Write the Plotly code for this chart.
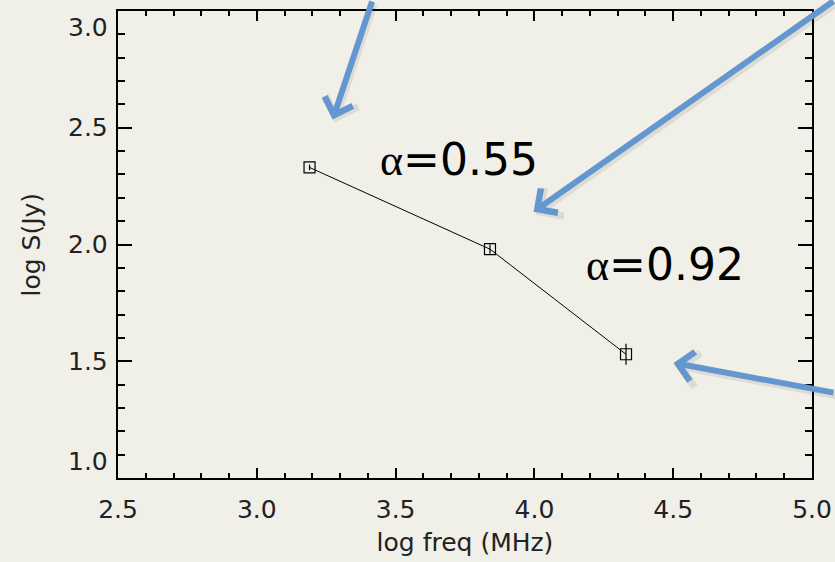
import plotly.graph_objects as go

# Radio spectrum: log frequency (MHz) vs log flux density (Jy)
log_freq = [3.19, 3.84, 4.33]
log_flux = [2.33, 1.98, 1.53]
flux_err = [0.012, 0.02, 0.045]

# Tick positions and labels
x_ticks = [2.5, 3.0, 3.5, 4.0, 4.5, 5.0]
y_ticks = [1.0, 1.5, 2.0, 2.5, 3.0]

# Spectral index labels: (text, x, y)
alpha_labels = [("α=0.55", 3.73, 2.365), ("α=0.92", 4.47, 1.915)]

# Pointer arrows: head position in data units, tail offset in pixels
arrow_heads_x = [3.273, 3.997, 4.501]
arrow_heads_y = [2.535, 2.140, 1.493]
arrow_tail_dx = [40, 320, 175]
arrow_tail_dy = [-132, -216, 30]

BG = "#f0efe8"
ARROW = "#6497cf"
FONT = "DejaVu Sans"
TEXT = "#222"

fig = go.Figure()
fig.add_trace(go.Scatter(
    x=log_freq, y=log_flux, mode="lines+markers",
    line=dict(color="black", width=1),
    marker=dict(symbol="square-open", size=11, color="black", line=dict(width=1.2)),
    error_y=dict(type="data", array=flux_err, color="black", thickness=1.2, width=0),
    showlegend=False,
))

annotations = []
for hx, hy, dx, dy in zip(arrow_heads_x, arrow_heads_y, arrow_tail_dx, arrow_tail_dy):
    # soft drop shadow under each arrow
    annotations.append(dict(
        x=hx, y=hy, xref="x", yref="y", ax=dx, ay=dy,
        text="", showarrow=True, arrowhead=4, arrowsize=0.95, arrowwidth=7,
        arrowcolor="rgba(60,60,50,0.10)", xshift=2, yshift=-3,
    ))
    annotations.append(dict(
        x=hx, y=hy, xref="x", yref="y", ax=dx, ay=dy,
        text="", showarrow=True, arrowhead=4, arrowsize=0.95, arrowwidth=6,
        arrowcolor=ARROW,
    ))
for txt, tx, ty in alpha_labels:
    sym, rest = txt[0], txt[1:]
    annotations.append(dict(
        x=tx, y=ty, xref="x", yref="y", showarrow=False,
        text=f'<span style="font-family:Liberation Serif">{sym}</span>{rest}',
        font=dict(family=FONT, size=44, color="black"),
    ))

# y tick labels: end labels are nudged inside the axis span
for i, v in enumerate(y_ticks):
    anchor = "bottom" if i == 0 else ("top" if i == len(y_ticks) - 1 else "middle")
    annotations.append(dict(
        x=0, xref="paper", y=v, yref="y", xanchor="right", yanchor=anchor,
        xshift=-8, showarrow=False, text=f"{v:.1f}",
        font=dict(family=FONT, size=25, color=TEXT),
    ))

axis_common = dict(
    showline=True, linecolor="black", linewidth=2, mirror="allticks",
    ticks="inside", tickcolor="black", tickwidth=1.5,
    showgrid=False, zeroline=False, automargin=False,
    tickfont=dict(family=FONT, size=25, color=TEXT),
)

fig.update_layout(
    width=835, height=562,
    margin=dict(l=118, r=23, t=11, b=84),
    paper_bgcolor=BG, plot_bgcolor=BG,
    annotations=annotations,
    xaxis=dict(
        range=[2.5, 5.0], tickmode="array", tickvals=x_ticks,
        ticktext=[f"{v:.1f}" for v in x_ticks], ticklen=10,
        ticklabelstandoff=8,
        minor=dict(dtick=0.1, ticklen=5, ticks="inside", tickcolor="black", tickwidth=1.5),
        title=dict(text="log freq (MHz)", font=dict(family=FONT, size=25, color=TEXT), standoff=10),
        **axis_common,
    ),
    yaxis=dict(
        range=[1.0, 3.0], tickmode="array", tickvals=y_ticks,
        showticklabels=False, ticklen=14,
        minor=dict(dtick=0.1, ticklen=7, ticks="inside", tickcolor="black", tickwidth=1.5),
        **axis_common,
    ),
)

# y axis title placed to the left of the tick labels
fig.add_annotation(
    x=0, xref="paper", y=0.5, yref="paper", xanchor="center", yanchor="middle",
    xshift=-87, textangle=-90, showarrow=False, text="log S(Jy)",
    font=dict(family=FONT, size=25, color=TEXT),
)

fig.write_html("out.html")
